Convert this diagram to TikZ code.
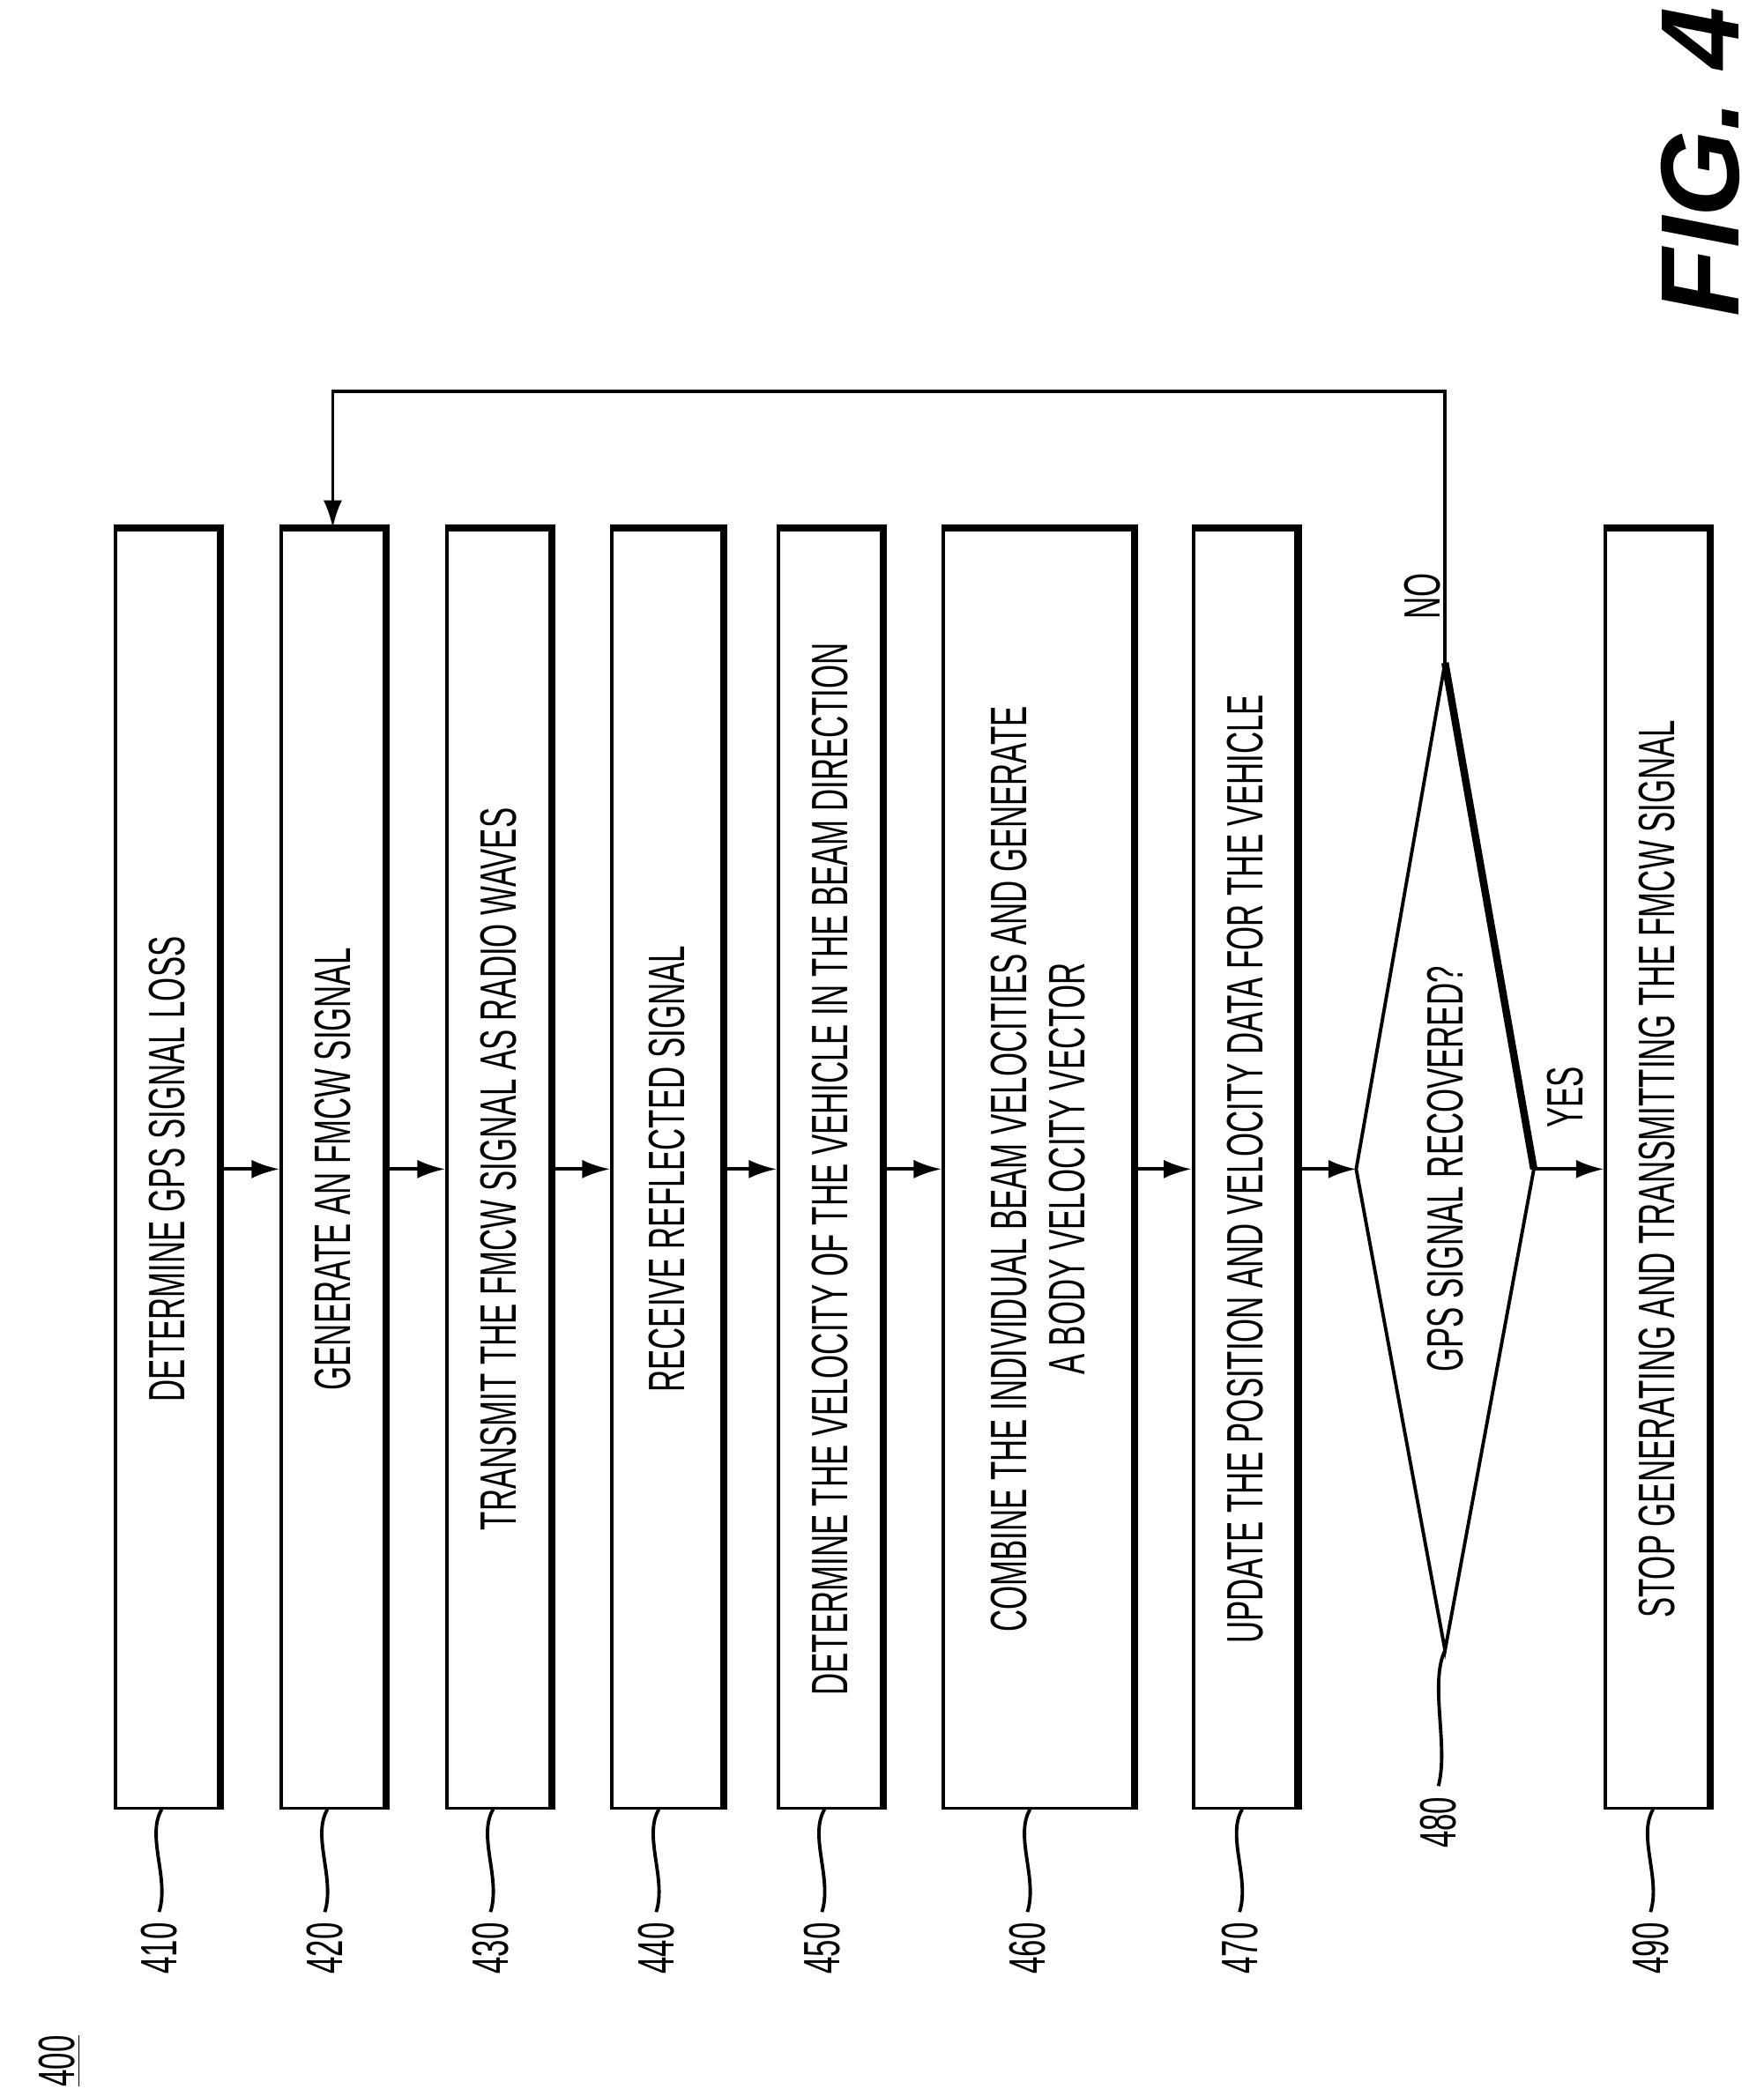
\documentclass[tikz,border=0pt]{standalone}
\usepackage{fontspec}
\setmainfont{Liberation Sans}
\newfontfamily\narrowsf{Liberation Sans}[FakeStretch=0.6]
\usetikzlibrary{arrows.meta, positioning, calc}

\begin{document}
\begin{tikzpicture}[x=0.01504cm, y=-0.01504cm,
    stepbox/.style={
        draw, line width=1.1pt, rotate=90,
        minimum width=14.51cm, minimum height=1.17cm,
        inner sep=0pt, align=center, font=\narrowsf\fontsize{16.5}{19}\selectfont
    },
    arrow/.style={-{Latex[length=9pt,width=6pt]}, line width=1.1pt},
    ref/.style={rotate=90, font=\narrowsf\fontsize{16.5}{19}\selectfont},
    lead/.style={line width=1.1pt}
]
    \useasboundingbox (0,0) rectangle (1330,1576);

    % Steps
    \node[stepbox] (s410) at (126,882) {DETERMINE GPS SIGNAL LOSS};
    \node[stepbox] (s420) at (251,882) {GENERATE AN FMCW SIGNAL};
    \node[stepbox] (s430) at (376,882) {TRANSMIT THE FMCW SIGNAL AS RADIO WAVES};
    \node[stepbox, minimum height=1.25cm] (s440) at (503,882) {RECEIVE REFLECTED SIGNAL};
    \node[stepbox] (s450) at (626,882) {DETERMINE THE VELOCITY OF THE VEHICLE IN THE BEAM DIRECTION};
    \node[stepbox, minimum height=2.15cm] (s460) at (783,882) {COMBINE THE INDIVIDUAL BEAM VELOCITIES AND GENERATE\\A BODY VELOCITY VECTOR};
    \node[stepbox] (s470) at (939,882) {UPDATE THE POSITION AND VELOCITY DATA FOR THE VEHICLE};
    \node[stepbox] (s490) at (1250,882) {STOP GENERATING AND TRANSMITTING THE FMCW SIGNAL};

    % thick top and right edges
    \foreach \n in {s410, s420, s430, s440, s450, s460, s470, s490} {
        \draw[line width=2.4pt] (\n.north east) -- (\n.south east) -- (\n.south west);
    }

    % Decision
    \coordinate (dtop) at (1090,500);
    \coordinate (dleft) at (1023,882);
    \coordinate (dright) at (1157,882);
    \coordinate (dbot) at (1090,1245);
    \draw[line width=1.1pt] (dtop) -- (dleft) -- (dbot) -- (dright);
    \draw[line width=2.4pt] (dtop) -- (dright);
    \node[ref] (q480) at (1090,882) {GPS SIGNAL RECOVERED?};

    % Connections
    \foreach \a/\b in {s410/s420, s420/s430, s430/s440, s440/s450, s450/s460, s460/s470} {
        \draw[arrow] (\a.south) -- (\b.north);
    }
    \draw[arrow] (s470.south) -- (dleft);
    \draw[arrow] (dright) -- (s490.north);
    \node[ref] (yes) at (1181,828) {YES};
    \coordinate (loop) at (1090,295);
    \draw[arrow] (dtop) -- (loop) -| (s420.east);
    \node[ref] (no) at (1073,450) {NO};

    % Reference numerals
    \foreach \x/\t in {120/410, 245/420, 370/430, 495/440,
                       620/450, 775/460, 935/470, 1245/490} {
        \node[ref] (r\t) at (\x,1470) {\t};
        \draw[lead] (r\t.east) .. controls +(8,-25) and +(-12,20) .. (\x+2,1365);
    }
    \node[ref] (r480) at (1085,1375) {480};
    \draw[lead] (r480.east) .. controls +(8,-30) and +(-12,25) .. (dbot);

    \node[ref] (r400) at (45,1555) {\underline{400}};
    \node[rotate=90, font=\bfseries\itshape\fontsize{36}{40}\selectfont] (fig) at (1283,122) {FIG. 4};
\end{tikzpicture}
\end{document}
